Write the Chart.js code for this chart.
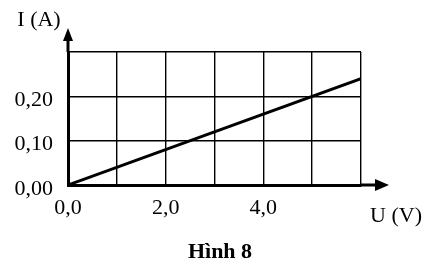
<!DOCTYPE html>
<html>
<head>
<meta charset="utf-8">
<script src="https://cdn.jsdelivr.net/npm/chart.js@4/dist/chart.umd.min.js"></script>
<style>
  html, body { margin: 0; padding: 0; background: #fff; }
  #wrap { width: 431px; height: 269px; }
</style>
</head>
<body>
<div id="wrap"><canvas id="chart"></canvas></div>
<script>
// data: I = f(U)
const uValues = [0, 6];
const iValues = [0, 0.24];

// tick labels (empty ones keep the grid line but show no text)
const uTickLabels = ['0,0', '', '2,0', '', '4,0', '', ''];
const iTickLabels = ['0,00', '0,10', '0,20', ''];

const xAxisName = 'U (V)';
const yAxisName = 'I (A)';
const caption = 'Hình 8';

const FONT = "'Liberation Serif', 'Times New Roman', serif";

// axis arrows, axis names and the caption
const decorations = {
    id: 'decorations',
    afterDraw(chart) {
        const ctx = chart.ctx;
        const a = chart.chartArea;
        ctx.save();
        ctx.fillStyle = '#000';
        ctx.strokeStyle = '#000';
        ctx.lineWidth = 3;

        // y axis up to arrow
        ctx.beginPath();
        ctx.moveTo(a.left, a.top);
        ctx.lineTo(a.left, 38);
        ctx.stroke();
        ctx.beginPath();
        ctx.moveTo(a.left, 28);
        ctx.lineTo(a.left - 5, 41);
        ctx.lineTo(a.left + 5, 41);
        ctx.closePath();
        ctx.fill();

        // x axis out to arrow
        ctx.beginPath();
        ctx.moveTo(a.right, a.bottom);
        ctx.lineTo(378, a.bottom);
        ctx.stroke();
        ctx.beginPath();
        ctx.moveTo(389, a.bottom);
        ctx.lineTo(375, a.bottom - 6);
        ctx.lineTo(375, a.bottom + 6);
        ctx.closePath();
        ctx.fill();

        ctx.textAlign = 'center';
        ctx.textBaseline = 'alphabetic';
        ctx.font = '22px ' + FONT;
        ctx.fillText(yAxisName, 39, 26);
        ctx.fillText(xAxisName, 396, 222);

        ctx.font = 'bold 22px ' + FONT;
        ctx.fillText(caption, 220, 258);
        ctx.restore();
    }
};

new Chart(document.getElementById('chart'), {
    type: 'scatter',
    data: {
        datasets: [{
            data: uValues.map((u, k) => ({ x: u, y: iValues[k] })),
            showLine: true,
            borderColor: '#000',
            borderWidth: 3,
            pointRadius: 0,
            fill: false
        }]
    },
    options: {
        responsive: true,
        maintainAspectRatio: false,
        animation: false,
        layout: { padding: { left: 0, top: 52, right: 70, bottom: 0 } },
        plugins: {
            legend: { display: false },
            tooltip: { enabled: false }
        },
        scales: {
            x: {
                type: 'linear',
                min: 0, max: 6,
                afterFit(scale) { scale.height = 84; },
                grid: { color: '#000', lineWidth: 1.4, drawTicks: false },
                border: { display: true, color: '#000', width: 3 },
                ticks: {
                    stepSize: 1,
                    padding: 10,
                    color: '#000',
                    maxRotation: 0,
                    autoSkip: false,
                    font: { family: FONT, size: 22 },
                    callback: (v, idx) => uTickLabels[idx]
                }
            },
            y: {
                type: 'linear',
                min: 0, max: 0.3,
                afterFit(scale) { scale.width = 68; },
                grid: { color: '#000', lineWidth: 1.4, drawTicks: false },
                border: { display: true, color: '#000', width: 3 },
                ticks: {
                    stepSize: 0.1,
                    padding: 15,
                    labelOffset: 4,
                    color: '#000',
                    autoSkip: false,
                    font: { family: FONT, size: 22 },
                    callback: (v, idx) => iTickLabels[idx]
                }
            }
        }
    },
    plugins: [decorations]
});
</script>
</body>
</html>
